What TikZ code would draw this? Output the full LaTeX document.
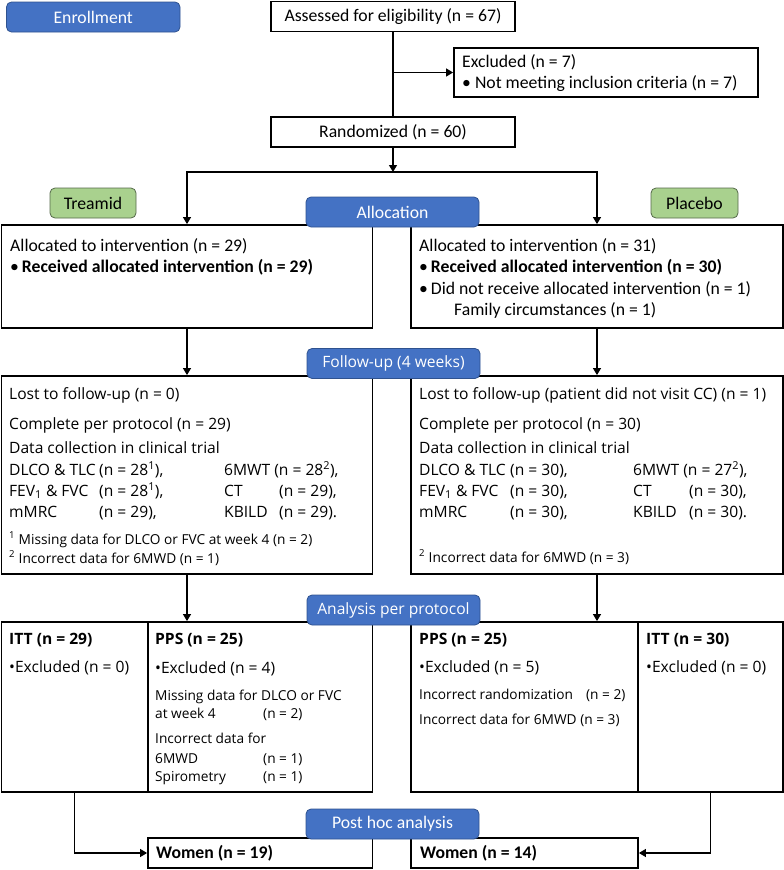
\documentclass[tikz,border=0pt]{standalone}
\usepackage{fontspec}
\setmainfont{Carlito}
\newfontfamily\osans{Open Sans}
\usetikzlibrary{arrows.meta}
\definecolor{hdrblue}{HTML}{4472C4}
\definecolor{hdredge}{HTML}{2F528F}
\definecolor{armgreen}{HTML}{A9D18E}
\definecolor{armedge}{HTML}{55694A}
\newcommand\calsize{\fontsize{17.7}{21}\selectfont}
\newcommand\fupsize{\osans\fontsize{15.6}{19}\selectfont}
\newcommand\notesize{\osans\fontsize{13.7}{16}\selectfont}
\newcommand\cell[2]{\makebox[#1][l]{#2}}

\begin{document}
\begin{tikzpicture}[x=1pt, y=-1pt,
		box/.style={draw, line width=1.8pt, inner sep=0pt, font=\calsize},
		hdr/.style={draw=hdredge, line width=0.8pt, fill=hdrblue, rounded corners=5pt, text=white, minimum width=173pt, minimum height=30pt, inner sep=0pt, font=\calsize},
		arm/.style={draw=armedge, line width=0.8pt, fill=armgreen, rounded corners=5pt, minimum height=30pt, inner sep=0pt, font=\calsize},
		txt/.style={anchor=base west, inner sep=0pt, font=\calsize},
		ftxt/.style={anchor=base west, inner sep=0pt, font=\fupsize},
		ntxt/.style={anchor=base west, inner sep=0pt, font=\notesize},
		link/.style={line width=1.2pt},
		arr/.style={link, -{Triangle[length=7pt, width=8pt]}}]
		\useasboundingbox (0,0) rectangle (784,870);
		% enrollment
		\node[box, minimum width=244pt, minimum height=30pt] (assess) at (393,16.5) {Assessed for eligibility (n = 67)};
		\node[box, minimum width=304pt, minimum height=49pt] (excl) at (606,72.5) {};
		\node[txt] (ex1) at (462,67) {Excluded (n = 7)};
		\node[txt] (ex2) at (462,88) {• Not meeting inclusion criteria (n = 7)};
		\node[box, minimum width=244pt, minimum height=30pt] (rand) at (393,132) {Randomized (n = 60)};
		% allocation
		\node[box, minimum width=371pt, minimum height=103pt] (allocL) at (187,276.5) {};
		\node[box, minimum width=372pt, minimum height=103pt] (allocR) at (597,276.5) {};
		\node[txt] (al1) at (10,251) {Allocated to intervention (n = 29)};
		\node[txt] (al2) at (10,272) {•\,\textbf{Received allocated intervention (n = 29)}};
		\node[txt] (ar1) at (419,251) {Allocated to intervention (n = 31)};
		\node[txt] (ar2) at (419,272) {•\,\textbf{Received allocated intervention (n = 30)}};
		\node[txt] (ar3) at (419,294) {•\,Did not receive allocated intervention (n = 1)};
		\node[txt] (ar4) at (454,315) {Family circumstances (n = 1)};
		% follow-up
		\node[box, minimum width=371pt, minimum height=198pt] (fupL) at (187,475) {};
		\node[box, minimum width=372pt, minimum height=198pt] (fupR) at (597,475) {};
		\node[ftxt] (fl1) at (9,399) {Lost to follow-up (n = 0)};
		\node[ftxt] (fl2) at (9,429) {Complete per protocol (n = 29)};
		\node[ftxt] (fl3) at (9,453) {Data collection in clinical trial};
		\node[ftxt] (fl4) at (9,475) {\cell{90pt}{DLCO \& TLC}\cell{125pt}{(n = 28\textsuperscript{1}),}6MWT (n = 28\textsuperscript{2}),};
		\node[ftxt] (fl5) at (9,496) {\cell{90pt}{FEV\textsubscript{1} \& FVC}\cell{125pt}{(n = 28\textsuperscript{1}),}\cell{55pt}{CT}(n = 29),};
		\node[ftxt] (fl6) at (9,517) {\cell{90pt}{mMRC}\cell{125pt}{(n = 29),}\cell{55pt}{KBILD}(n = 29).};
		\node[ntxt] (fl7) at (9,544) {\textsuperscript{1} Missing data for DLCO or FVC at week 4 (n = 2)};
		\node[ntxt] (fl8) at (9,563) {\textsuperscript{2} Incorrect data for 6MWD (n = 1)};
		\node[ftxt] (fr1) at (419,399) {Lost to follow-up (patient did not visit CC) (n = 1)};
		\node[ftxt] (fr2) at (419,429) {Complete per protocol (n = 30)};
		\node[ftxt] (fr3) at (419,453) {Data collection in clinical trial};
		\node[ftxt] (fr4) at (419,475) {\cell{91pt}{DLCO \& TLC}\cell{123pt}{(n = 30),}6MWT (n = 27\textsuperscript{2}),};
		\node[ftxt] (fr5) at (419,496) {\cell{91pt}{FEV\textsubscript{1} \& FVC}\cell{123pt}{(n = 30),}\cell{56pt}{CT}(n = 30),};
		\node[ftxt] (fr6) at (419,517) {\cell{91pt}{mMRC}\cell{123pt}{(n = 30),}\cell{56pt}{KBILD}(n = 30).};
		\node[ntxt] (fr7) at (419,562) {\textsuperscript{2} Incorrect data for 6MWD (n = 3)};
		% analysis
		\node[box, minimum width=146.5pt, minimum height=170pt] (ittL) at (74.75,707) {};
		\node[box, minimum width=224.5pt, minimum height=170pt] (ppsL) at (260.25,707) {};
		\node[box, minimum width=227pt, minimum height=170pt] (ppsR) at (524.5,707) {};
		\node[box, minimum width=145pt, minimum height=170pt] (ittR) at (710.5,707) {};
		\node[ftxt] (il1) at (9,644) {\textbf{ITT (n = 29)}};
		\node[ftxt] (il2) at (9,672) {•Excluded (n = 0)};
		\node[ftxt] (pl1) at (155,644) {\textbf{PPS (n = 25)}};
		\node[ftxt] (pl2) at (155,673) {•Excluded (n = 4)};
		\node[ntxt] (pl3) at (155,700) {Missing data for DLCO or FVC};
		\node[ntxt] (pl4) at (155,718.5) {\cell{108pt}{at week 4}(n = 2)};
		\node[ntxt] (pl5) at (155,743.5) {Incorrect data for};
		\node[ntxt] (pl6) at (155,763) {\cell{108pt}{6MWD}(n = 1)};
		\node[ntxt] (pl7) at (155,781) {\cell{108pt}{Spirometry}(n = 1)};
		\node[ftxt] (pr1) at (419,644) {\textbf{PPS (n = 25)}};
		\node[ftxt] (pr2) at (419,672) {•Excluded (n = 5)};
		\node[ntxt] (pr3) at (419,699) {\cell{167pt}{Incorrect randomization}(n = 2)};
		\node[ntxt] (pr4) at (419,724) {Incorrect data for 6MWD (n = 3)};
		\node[ftxt] (ir1) at (646,644) {\textbf{ITT (n = 30)}};
		\node[ftxt] (ir2) at (646,672) {•Excluded (n = 0)};
		% post hoc
		\node[box, minimum width=224.5pt, minimum height=30pt] (womL) at (260.25,853) {};
		\node[box, minimum width=227pt, minimum height=30pt] (womR) at (524.5,853) {};
		\node[txt] (wl) at (156,858) {\textbf{Women (n = 19)}};
		\node[txt] (wr) at (420,858) {\textbf{Women (n = 14)}};
		% connectors
		\coordinate (split) at (393,172);
		\draw[link] (assess.south) -- (rand.north);
		\draw[arr] (assess.south |- excl.west) -- (excl.west);
		\draw[arr] (rand.south) -- (split);
		\draw[arr] (split) -| (allocL.north);
		\draw[arr] (split) -| (allocR.north);
		\draw[arr] (allocL.south) -- (fupL.north);
		\draw[arr] (allocR.south) -- (fupR.north);
		\draw[arr] (fupL.south) -- (fupL.south |- ppsL.north);
		\draw[arr] (fupR.south) -- (fupR.south |- ppsR.north);
		\draw[arr] (ittL.south) |- (womL.west);
		\draw[arr] (ittR.south) |- (womR.east);
		% labels
		\node[hdr, minimum width=173.5pt] (enrol) at (93.25,17) {Enrollment};
		\node[arm, minimum width=86pt] (treamid) at (93,203) {Treamid};
		\node[arm, minimum width=87pt] (placebo) at (694.5,203) {Placebo};
		\node[hdr] (alloc) at (392.5,212) {Allocation};
		\node[hdr, font=\fupsize] (fup) at (393.5,363.5) {Follow-up (4 weeks)};
		\node[hdr, font=\fupsize] (ana) at (393.5,610) {Analysis per protocol};
		\node[hdr] (posthoc) at (392.5,824) {Post hoc analysis};
	\end{tikzpicture}
\end{document}
